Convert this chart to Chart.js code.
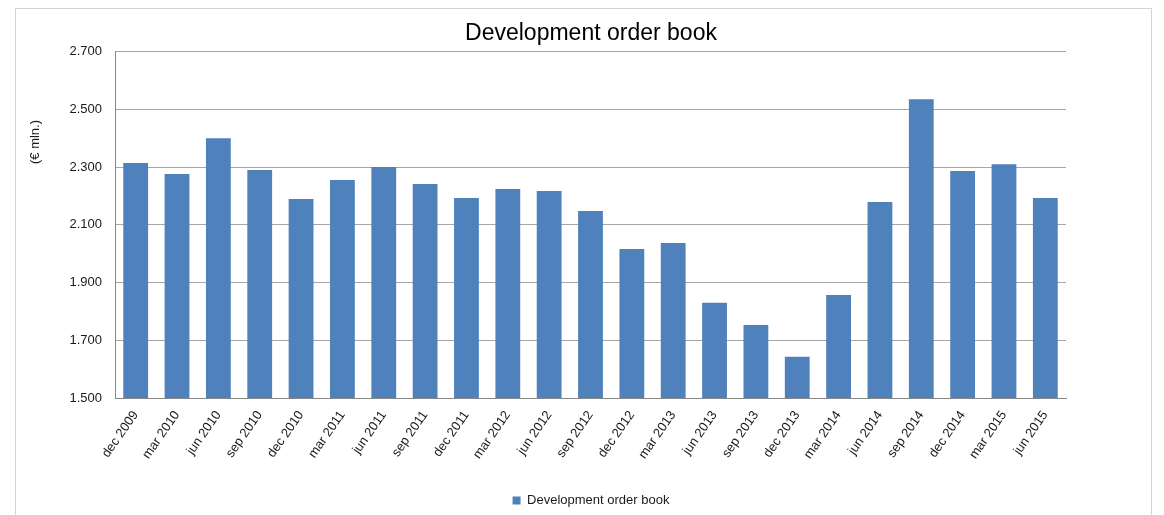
<!DOCTYPE html>
<html>
<head>
<meta charset="utf-8">
<script src="https://cdn.jsdelivr.net/npm/chart.js@4"></script>
<style>
  html, body { margin: 0; padding: 0; background: #fff; overflow: hidden; }
  #frame {
    position: absolute; left: 15px; top: 8px;
    width: 1135px; height: 540px;
    border: 1px solid #d4d4d4;
  }
  #wrap { position: absolute; left: 0; top: 0; width: 1164px; height: 515px; }
</style>
</head>
<body>
<div id="frame"></div>
<div id="wrap"><canvas id="orderBook"></canvas></div>
<script>
const BAR_COLOR = '#4f81bd';
const GRID_COLOR = '#a6a6a6';
const AXIS_COLOR = '#868686';
const TEXT_COLOR = '#1a1a1a';
const FONT = '"Liberation Sans", Arial, sans-serif';

// quarter labels
const quarters = [
    'dec 2009', 'mar 2010', 'jun 2010', 'sep 2010', 'dec 2010',
    'mar 2011', 'jun 2011', 'sep 2011', 'dec 2011', 'mar 2012',
    'jun 2012', 'sep 2012', 'dec 2012', 'mar 2013', 'jun 2013',
    'sep 2013', 'dec 2013', 'mar 2014', 'jun 2014', 'sep 2014',
    'dec 2014', 'mar 2015', 'jun 2015'
];

// order book, € mln.
const orderBook = [
    2314, 2276, 2400, 2290, 2189,
    2255, 2300, 2241, 2193, 2224,
    2217, 2148, 2016, 2037, 1830,
    1753, 1643, 1857, 2179, 2535,
    2286, 2310, 2193
];

const yMin = 1500;
const yMax = 2700;
const yStep = 200;

Chart.defaults.font.family = FONT;
Chart.defaults.color = TEXT_COLOR;

function thousands(v) {
    const k = Math.floor(v / 1000);
    const r = String(v % 1000).padStart(3, '0');
    return k + '.' + r;
}

// Excel puts the axis title above the middle, so draw it by hand
const yTitle = {
    id: 'yTitle',
    afterDraw(chart) {
        const ctx = chart.ctx;
        ctx.save();
        ctx.translate(35, 142);
        ctx.rotate(-Math.PI / 2);
        ctx.font = '13px ' + FONT;
        ctx.fillStyle = TEXT_COLOR;
        ctx.textAlign = 'center';
        ctx.textBaseline = 'middle';
        ctx.fillText('(€ mln.)', 0, 0);
        ctx.restore();
    }
};

var data = {
    labels: quarters,
    datasets: [{
        label: 'Development order book',
        data: orderBook,
        backgroundColor: BAR_COLOR,
        borderWidth: 0,
        barPercentage: 0.6,
        categoryPercentage: 1.0
    }]
};

var config = {
    type: 'bar',
    data: data,
    options: {
        responsive: false,
        animation: false,
        layout: {
            padding: { left: 18, right: 0, top: 0, bottom: 0 }
        },
        plugins: {
            title: {
                display: true,
                text: 'Development order book',
                color: '#000',
                font: { size: 23, weight: 'normal' },
                padding: { top: 20, bottom: 4 }
            },
            legend: {
                display: true,
                position: 'bottom',
                maxHeight: 21,
                labels: {
                    boxWidth: 8,
                    boxHeight: 8,
                    padding: 0,
                    color: TEXT_COLOR,
                    font: { size: 13 }
                }
            },
            tooltip: { enabled: false }
        },
        scales: {
            x: {
                grid: { display: false, drawTicks: false },
                border: { display: true, color: AXIS_COLOR, width: 1 },
                ticks: {
                    autoSkip: false,
                    minRotation: 55,
                    maxRotation: 55,
                    padding: 10,
                    font: { size: 13 }
                },
                afterFit(scale) { scale.height = 96; }
            },
            y: {
                min: yMin,
                max: yMax,
                grid: { color: GRID_COLOR, drawTicks: false },
                border: { display: true, color: AXIS_COLOR, width: 1 },
                ticks: {
                    stepSize: yStep,
                    padding: 13,
                    font: { size: 13 },
                    callback: (v) => thousands(v)
                },
                afterFit(scale) { scale.width = 97; }
            },
            yPad: {
                type: 'linear',
                position: 'right',
                grid: { display: false, drawTicks: false },
                border: { display: false },
                ticks: { display: false },
                afterFit(scale) { scale.width = 98; }
            }
        }
    },
    plugins: [yTitle]
};

const canvas = document.getElementById('orderBook');
canvas.width = 1164;
canvas.height = 515;
canvas.style.width = '1164px';
canvas.style.height = '515px';

new Chart(canvas, config);
</script>
</body>
</html>
